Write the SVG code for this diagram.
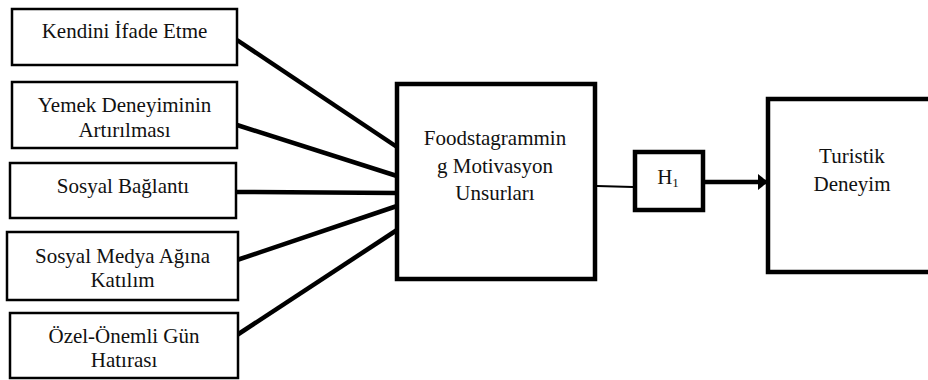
<svg xmlns="http://www.w3.org/2000/svg" width="928" height="380" viewBox="0 0 928 380">
<defs>
<marker id="ah" markerWidth="10" markerHeight="16" refX="10" refY="8" orient="auto" markerUnits="userSpaceOnUse">
<path d="M0,0 L10,8 L0,16 Z" fill="#000"/>
</marker>
</defs>
<g id="connectors" stroke="#000" stroke-width="4.5" fill="none">
<line x1="237" y1="40" x2="397" y2="147"/>
<line x1="237" y1="125" x2="397" y2="176"/>
<line x1="237" y1="192" x2="397" y2="193"/>
<line x1="237" y1="260" x2="397" y2="206"/>
<line x1="237" y1="335" x2="397" y2="230"/>
<line x1="597" y1="186" x2="633" y2="187" stroke-width="1.8"/>
<line x1="705" y1="182" x2="768" y2="182" marker-end="url(#ah)"/>
</g>
<g id="n1"><rect fill="#fff" stroke="#000" stroke-width="2.5" x="12" y="9" width="225" height="56"/><text style="font-family:'Liberation Serif',serif;font-size:21px" fill="#111" text-anchor="middle" x="124.5" y="38">Kendini İfade Etme</text></g>
<g id="n2"><rect fill="#fff" stroke="#000" stroke-width="2.5" x="12" y="82" width="225" height="66"/><text style="font-family:'Liberation Serif',serif;font-size:21px" fill="#111" text-anchor="middle" x="124.5" y="112">Yemek Deneyiminin</text><text style="font-family:'Liberation Serif',serif;font-size:21px" fill="#111" text-anchor="middle" x="124.5" y="137">Artırılması</text></g>
<g id="n3"><rect fill="#fff" stroke="#000" stroke-width="2.5" x="10" y="163" width="226" height="55"/><text style="font-family:'Liberation Serif',serif;font-size:21px" fill="#111" text-anchor="middle" x="123" y="193">Sosyal Bağlantı</text></g>
<g id="n4"><rect fill="#fff" stroke="#000" stroke-width="2.5" x="7" y="232" width="231" height="68"/><text style="font-family:'Liberation Serif',serif;font-size:21px" fill="#111" text-anchor="middle" x="122.5" y="263">Sosyal Medya Ağına</text><text style="font-family:'Liberation Serif',serif;font-size:21px" fill="#111" text-anchor="middle" x="122.5" y="287">Katılım</text></g>
<g id="n5"><rect fill="#fff" stroke="#000" stroke-width="2.5" x="10" y="313" width="228" height="65"/><text style="font-family:'Liberation Serif',serif;font-size:21px" fill="#111" text-anchor="middle" x="124" y="343">Özel-Önemli Gün</text><text style="font-family:'Liberation Serif',serif;font-size:21px" fill="#111" text-anchor="middle" x="124" y="367">Hatırası</text></g>
<g id="center"><rect fill="#fff" stroke="#000" stroke-width="4.5" x="397" y="84" width="198" height="195"/><text style="font-family:'Liberation Serif',serif;font-size:21px" fill="#111" text-anchor="middle" x="495" y="145">Foodstagrammin</text><text style="font-family:'Liberation Serif',serif;font-size:21px" fill="#111" text-anchor="middle" x="495" y="173">g Motivasyon</text><text style="font-family:'Liberation Serif',serif;font-size:21px" fill="#111" text-anchor="middle" x="495" y="200">Unsurları</text></g>
<g id="h1"><rect fill="#fff" stroke="#000" stroke-width="4.5" x="635" y="152" width="68" height="58"/><text style="font-family:'Liberation Serif',serif;font-size:21px" fill="#111" text-anchor="middle" x="668" y="184">H<tspan font-size="13" dy="3">1</tspan></text></g>
<g id="turistik"><rect fill="#fff" stroke="#000" stroke-width="4.5" x="768" y="99" width="170" height="173"/><text style="font-family:'Liberation Serif',serif;font-size:21px" fill="#111" text-anchor="middle" x="852" y="163">Turistik</text><text style="font-family:'Liberation Serif',serif;font-size:21px" fill="#111" text-anchor="middle" x="852" y="191">Deneyim</text></g>
</svg>
